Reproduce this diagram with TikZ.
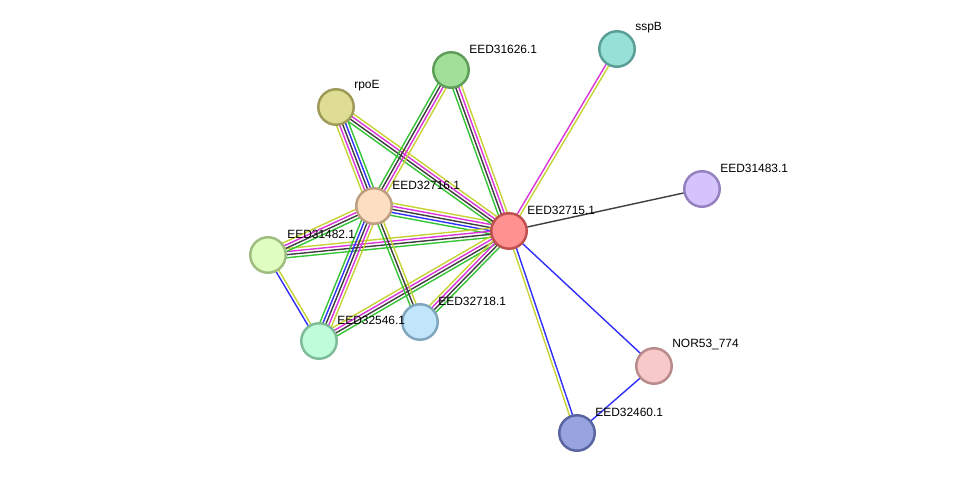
\documentclass[tikz,border=0pt]{standalone}
\usepackage{fontspec}
\setmainfont{Liberation Sans}
\usetikzlibrary{calc,backgrounds}

% evidence colours
\definecolor{cyel}{RGB}{198,211,52}
\definecolor{cmag}{RGB}{218,52,218}
\definecolor{cblk}{RGB}{62,62,62}
\definecolor{cblu}{RGB}{48,48,250}
\definecolor{cgrn}{RGB}{52,196,52}

% protein colours
\definecolor{f715}{RGB}{255,145,145}\definecolor{d715}{RGB}{192,80,80}
\definecolor{f716}{RGB}{254,222,193}\definecolor{d716}{RGB}{190,158,130}
\definecolor{f626}{RGB}{160,224,152}\definecolor{d626}{RGB}{94,158,90}
\definecolor{frpo}{RGB}{223,220,150}\definecolor{drpo}{RGB}{158,155,88}
\definecolor{fssp}{RGB}{151,224,216}\definecolor{dssp}{RGB}{91,158,151}
\definecolor{f483}{RGB}{213,196,252}\definecolor{d483}{RGB}{149,128,192}
\definecolor{f482}{RGB}{224,253,192}\definecolor{d482}{RGB}{160,189,128}
\definecolor{f546}{RGB}{190,252,218}\definecolor{d546}{RGB}{126,187,153}
\definecolor{f718}{RGB}{193,230,252}\definecolor{d718}{RGB}{127,166,189}
\definecolor{fnor}{RGB}{247,201,201}\definecolor{dnor}{RGB}{184,138,138}
\definecolor{f460}{RGB}{152,164,224}\definecolor{d460}{RGB}{90,100,160}

% parallel evidence lines between two proteins
\newcommand{\bundle}[4]{%
  \foreach \c [count=\i] in {#4} {
    \pgfmathsetmacro{\off}{(\i-(#3+1)/2)*1.75}
    \draw[\c, line width=0.8pt] ($(#1.center)!\off pt!-90:(#2.center)$) -- ($(#2.center)!\off pt!90:(#1.center)$);
  }}

\begin{document}
\begin{tikzpicture}[x=0.02cm, y=-0.02cm,
  prot/.style={circle, line width=1.4pt, minimum size=0.71cm, inner sep=0pt},
  lab/.style={anchor=west, inner sep=0pt, font=\fontsize{6.8pt}{8pt}\selectfont}]
\useasboundingbox (0,0) rectangle (975,479);

\node[prot, fill=f715, draw=d715] (n715) at (509,231) {};
\node[prot, fill=f716, draw=d716] (n716) at (374,206) {};
\node[prot, fill=f626, draw=d626] (n626) at (451,70) {};
\node[prot, fill=frpo, draw=drpo] (rpoE) at (336,107) {};
\node[prot, fill=fssp, draw=dssp] (sspB) at (617,49) {};
\node[prot, fill=f483, draw=d483] (n483) at (702,189) {};
\node[prot, fill=f482, draw=d482] (n482) at (268,255) {};
\node[prot, fill=f546, draw=d546] (n546) at (319,341) {};
\node[prot, fill=f718, draw=d718] (n718) at (420,322) {};
\node[prot, fill=fnor, draw=dnor] (nor) at (654,366) {};
\node[prot, fill=f460, draw=d460] (n460) at (577,433) {};

\node[lab] (l715) at (527,210) {EED32715.1};
\node[lab] (l716) at (392,185) {EED32716.1};
\node[lab] (l626) at (469,49) {EED31626.1};
\node[lab] (lrpo) at (354,86) {rpoE};
\node[lab] (lssp) at (635,28) {sspB};
\node[lab] (l483) at (720,168) {EED31483.1};
\node[lab] (l482) at (287,234) {EED31482.1};
\node[lab] (l546) at (337,320) {EED32546.1};
\node[lab] (l718) at (438,301) {EED32718.1};
\node[lab] (lnor) at (672,345) {NOR53\_774};
\node[lab] (l460) at (595,412) {EED32460.1};

\begin{pgfonlayer}{background}
\bundle{n716}{n715}{5}{cyel,cmag,cblk,cblu,cgrn}
\bundle{n482}{n715}{4}{cyel,cmag,cblk,cgrn}
\bundle{rpoE}{n715}{4}{cyel,cmag,cblk,cgrn}
\bundle{n626}{n715}{4}{cyel,cmag,cblk,cgrn}
\bundle{n715}{sspB}{2}{cmag,cyel}
\bundle{n715}{n483}{1}{cblk}
\bundle{n546}{n715}{4}{cyel,cmag,cblk,cgrn}
\bundle{n718}{n715}{4}{cyel,cmag,cblk,cgrn}
\bundle{n715}{nor}{1}{cblu}
\bundle{n715}{n460}{2}{cblu,cyel}
\bundle{n716}{n626}{4}{cgrn,cblk,cmag,cyel}
\bundle{rpoE}{n716}{5}{cgrn,cblu,cblk,cmag,cyel}
\bundle{n482}{n716}{4}{cyel,cmag,cblk,cgrn}
\bundle{n546}{n716}{5}{cgrn,cblu,cblk,cmag,cyel}
\bundle{n716}{n718}{3}{cyel,cblk,cgrn}
\bundle{n482}{n546}{2}{cyel,cblu}
\bundle{nor}{n460}{1}{cblu}
\end{pgfonlayer}
\end{tikzpicture}
\end{document}
